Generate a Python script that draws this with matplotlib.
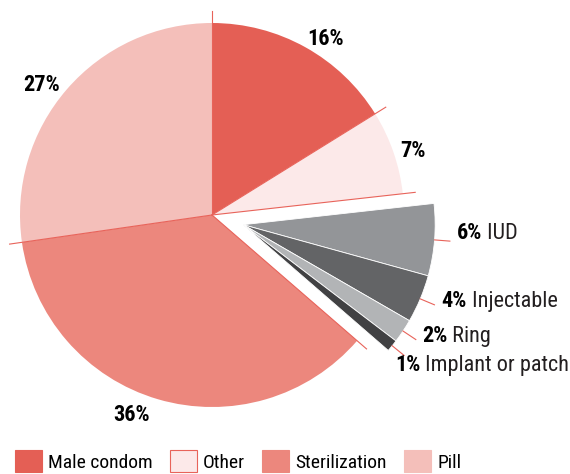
import numpy as np
import matplotlib
matplotlib.use("Agg")
import matplotlib.pyplot as plt
from matplotlib.patches import Patch
from matplotlib import font_manager as fm

# condensed sans if available, else DejaVu
have = {f.name for f in fm.fontManager.ttflist}
fams = [f for f in ['Roboto Condensed', 'PT Sans Narrow', 'Liberation Sans Narrow'] if f in have]
plt.rcParams['font.family'] = fams + ['DejaVu Sans']

methods = ["Male condom", "Other", "IUD", "Injectable", "Ring",
           "Implant or patch", "Sterilization", "Pill"]
shares = [16, 7, 6, 4, 2, 1, 36, 27]
colors = ["#E45F55", "#FCE9E9", "#939598", "#636466", "#B2B4B6",
          "#414143", "#EC877D", "#F4BFBA"]
larc = ["IUD", "Injectable", "Ring", "Implant or patch"]
legend_items = ["Male condom", "Other", "Sterilization", "Pill"]

line_c = "#E8635A"
R = 192.0  # pie radius in pixels
cx, cy = 212, 215

# small pixel nudges for the labels
nudge = {"Male condom": (10, -10), "Other": (0, -6), "Sterilization": (-20, 4), "Pill": (-9, -10),
         "IUD": (7, 8), "Injectable": (7, 4), "Ring": (6, 4), "Implant or patch": (-9, -10)}

fig = plt.figure(figsize=(5.7, 4.74), dpi=100)
ax = fig.add_axes([0, 0, 1, 1])

wedges, _ = ax.pie(shares, colors=colors, startangle=90, counterclock=False,
                   wedgeprops=dict(linewidth=0))

ax.set_xlim(-cx / R, (570 - cx) / R)
ax.set_ylim(-(474 - cy) / R, cy / R)
ax.set_aspect('auto')
ax.axis('off')

grp = [methods.index(m) for m in larc]
main = [i for i in range(len(methods)) if i not in grp]

# pull the LARC group out together
lo = min(wedges[i].theta1 for i in grp)
hi = max(wedges[i].theta2 for i in grp)
gmid = np.radians((lo + hi) / 2)
off = 0.17 * np.array([np.cos(gmid), np.sin(gmid)])
for i in grp:
    wedges[i].set_center(tuple(off))
    wedges[i].set_edgecolor("white")
    wedges[i].set_linewidth(0.6)

# boundary lines sticking out of the main pie
angs = set()
for i in main:
    angs.add(round(wedges[i].theta1 % 360, 3))
    angs.add(round(wedges[i].theta2 % 360, 3))
for a in angs:
    t = np.radians(a)
    ax.plot([0, 1.065 * np.cos(t)], [0, 1.065 * np.sin(t)], color=line_c, lw=0.8, zorder=3)

# percent labels on the main slices
for i in main:
    t = np.radians((wedges[i].theta1 + wedges[i].theta2) / 2)
    ax.annotate(f"{shares[i]}%", xy=(1.11 * np.cos(t), 1.11 * np.sin(t)),
                xytext=nudge[methods[i]], textcoords='offset pixels',
                ha='center', va='center', fontsize=16, fontweight='bold')

# leader lines + labels for the pulled-out group
for i in grp:
    t = np.radians((wedges[i].theta1 + wedges[i].theta2) / 2)
    d = np.array([np.cos(t), np.sin(t)])
    p0 = off + 1.0 * d
    p1 = off + 1.08 * d
    ax.plot([p0[0], p1[0]], [p0[1], p1[1]], color=line_c, lw=0.8)
    t1 = ax.annotate(f"{shares[i]}%", xy=p1, xytext=nudge[methods[i]], textcoords='offset pixels',
                     ha='left', va='center', fontsize=16, fontweight='bold')
    ax.annotate(" " + methods[i], xy=(1, 0), xycoords=t1, ha='left', va='bottom',
                fontsize=16, color="#231F20")

handles = []
for m in legend_items:
    c = colors[methods.index(m)]
    ec = line_c if m == "Other" else c
    handles.append(Patch(facecolor=c, edgecolor=ec, linewidth=0.8))
fig.legend(handles, legend_items, loc='upper left', bbox_to_anchor=(15 / 570, 1 - 450 / 474),
           ncol=4, frameon=False, fontsize=14, handlelength=1.39, handleheight=1.39,
           handletextpad=0.3, columnspacing=0.9, borderpad=0, borderaxespad=0)

fig.savefig("out.png", dpi=100)
